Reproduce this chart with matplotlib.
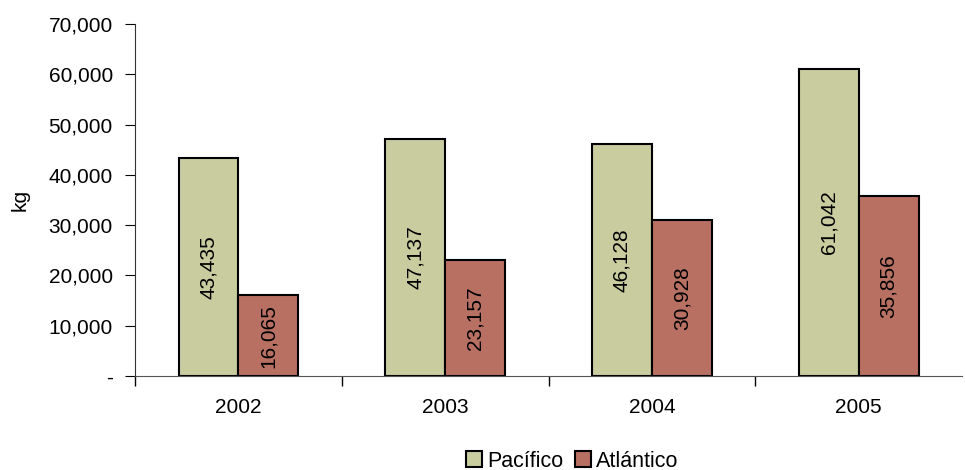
import matplotlib

matplotlib.use("Agg")
import matplotlib.pyplot as plt
import numpy as np
from matplotlib.ticker import FuncFormatter, FixedLocator

plt.rcParams["font.family"] = ["Liberation Sans", "DejaVu Sans"]

years = ["2002", "2003", "2004", "2005"]
pacifico = [43435, 47137, 46128, 61042]
atlantico = [16065, 23157, 30928, 35856]

GREEN = "#C8CC9E"
RED = "#B87063"
FS = 15

fig = plt.figure(figsize=(9.65, 4.7), dpi=100)
ax = fig.add_axes([0.14, 0.2, 0.857, 0.749])

x = np.arange(len(years))
w = 0.29
b1 = ax.bar(x - w / 2, pacifico, w, color=GREEN, edgecolor="black", linewidth=1.5, label="Pacífico")
b2 = ax.bar(x + w / 2, atlantico, w, color=RED, edgecolor="black", linewidth=1.5, label="Atlántico")

for bars, vals in ((b1, pacifico), (b2, atlantico)):
    for r, v in zip(bars, vals):
        ax.text(r.get_x() + r.get_width() / 2, v / 2, f"{v:,}", rotation=90,
                ha="center", va="center", fontsize=FS)

ax.set_xlim(-0.5, len(years) - 0.5)
ax.set_ylim(0, 70000)
ax.set_yticks(np.arange(0, 70001, 10000))
ax.yaxis.set_major_formatter(FuncFormatter(lambda v, p: "-" if v == 0 else f"{int(v):,}"))
ax.set_xticks(x)
ax.set_xticklabels(years)
ax.xaxis.set_minor_locator(FixedLocator(np.arange(-0.5, len(years) - 0.9, 1.0)))
ax.tick_params(axis="x", which="major", length=0, pad=16, labelsize=FS)
ax.tick_params(axis="x", which="minor", length=7, direction="out", width=1)
ax.tick_params(axis="y", length=7, direction="out", labelsize=FS, pad=9)
ax.set_ylabel("kg", fontsize=FS, labelpad=14)

for s in ("top", "right"):
    ax.spines[s].set_visible(False)
ax.spines["left"].set_color("#333333")
ax.spines["bottom"].set_color("#555555")

fig.legend(loc="lower center", bbox_to_anchor=(0.593, -0.045), ncol=2, frameon=False,
           fontsize=15.5, handlelength=0.75, handleheight=0.75, handletextpad=0.25,
           columnspacing=0.5)

fig.savefig("out.png", dpi=100)
